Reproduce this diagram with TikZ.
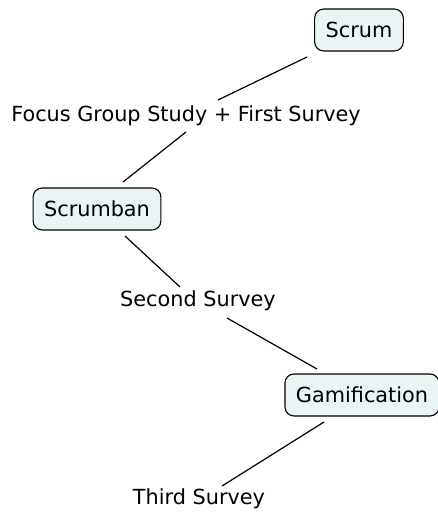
\documentclass[tikz,border=0pt]{standalone}
\usepackage{fontspec}
\setmainfont{DejaVu Sans}
\usetikzlibrary{calc}
\definecolor{boxfill}{RGB}{234,244,245}
\tikzset{
  concept/.style={draw=black, fill=boxfill, rounded corners=9pt, line width=1.1pt,
    minimum height=42pt, inner xsep=11pt, inner ysep=0pt, font=\fontsize{20.8}{24}\selectfont},
  linklabel/.style={inner sep=0pt, font=\fontsize{20.8}{24}\selectfont},
  conn/.style={line width=1.2pt, black}
}
\begin{document}
\begin{tikzpicture}[x=1pt,y=-1pt]
\useasboundingbox (0,0) rectangle (438,514);
\node[concept] (scrum) at (359,30) {Scrum};
\node[linklabel] (l1) at (186,116) {Focus Group Study + First Survey};
\node[concept] (scrumban) at (97,209) {Scrumban};
\node[linklabel] (l2) at (198,301) {Second Survey};
\node[concept] (gam) at (362,395) {Gamification};
\node[linklabel] (l3) at (199,499) {Third Survey};
\draw[conn] ($(scrum)+(-52,27)$) -- ($(l1)+(32,-16)$);
\draw[conn] ($(l1)+(0,16)$) -- ($(scrumban)+(26,-27)$);
\draw[conn] ($(scrumban)+(28,27)$) -- ($(l2)+(-18,-14)$);
\draw[conn] ($(l2)+(29,17)$) -- ($(gam)+(-45,-26)$);
\draw[conn] ($(gam)+(-38,27)$) -- ($(l3)+(23,-13)$);
\end{tikzpicture}
\end{document}
